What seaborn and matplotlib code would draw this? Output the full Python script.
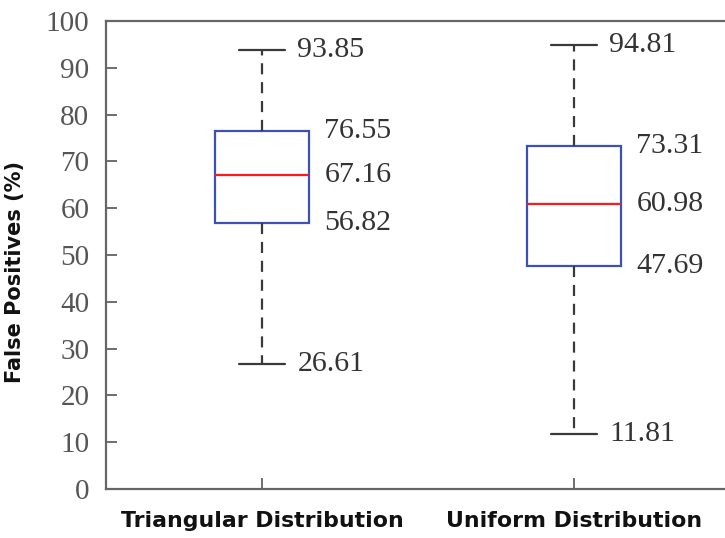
import numpy as np
import pandas as pd
import matplotlib.pyplot as plt
import seaborn as sns

# five-number summaries: min, q1, median, q3, max
groups = ["Triangular Distribution", "Uniform Distribution"]
tri_vals = [26.61, 56.82, 67.16, 76.55, 93.85]
uni_vals = [11.81, 47.69, 60.98, 73.31, 94.81]
yticks = [0, 10, 20, 30, 40, 50, 60, 70, 80, 90, 100]

df = pd.DataFrame({
    "group": [groups[0]] * len(tri_vals) + [groups[1]] * len(uni_vals),
    "fp": tri_vals + uni_vals,
})

sns.set_theme(style="white")
plt.rcParams['font.family'] = ['DejaVu Sans']

fig = plt.figure(figsize=(7.25, 5.38), dpi=100)
ax = fig.add_axes([0.1462, 0.0911, 0.8607, 0.870])

# with 5 points per group the quartiles land exactly on the given values
sns.boxplot(data=df, x="group", y="fp", whis=(0, 100), width=0.3, ax=ax,
            color="white", linecolor="#3a3a3a", linewidth=1.6,
            boxprops=dict(facecolor="none", edgecolor="#3d50b4"),
            medianprops=dict(color="#ff1a1a"),
            whiskerprops=dict(color="#3a3a3a", linestyle=(0, (5, 3.5))),
            capprops=dict(color="#3a3a3a"))

# value labels
serif = "Liberation Serif"
for i, vals in enumerate([tri_vals, uni_vals]):
    for j, v in enumerate(vals):
        dx = 0.113 if j in (0, 4) else 0.2
        ax.text(i + dx, v, f"{v:.2f}", va="center", ha="left",
                fontsize=21.5, family=serif, color="#333333")

ax.set_xlim(-0.5, 1.5)
ax.set_ylim(0, 100)
ax.set_yticks(yticks)
ax.set_xlabel("")
ax.set_ylabel("False Positives (%)", fontsize=15, fontweight="bold",
              color="#111111")
ax.yaxis.set_label_coords(-0.13, 0.464)

ax.tick_params(axis="y", direction="in", length=8, left=True, width=1.2,
               color="#555555", labelsize=21, labelcolor="#555555", pad=12)
ax.tick_params(axis="x", direction="in", length=8, bottom=True, width=1.2,
               color="#555555", pad=16)
for lab in ax.get_yticklabels():
    lab.set_family(serif)
for lab in ax.get_xticklabels():
    lab.set_fontsize(15.8)
    lab.set_fontweight("bold")
    lab.set_color("#111111")

for s in ax.spines.values():
    s.set_color("#666666")
    s.set_linewidth(1.6)

fig.savefig("out.png", dpi=100)
